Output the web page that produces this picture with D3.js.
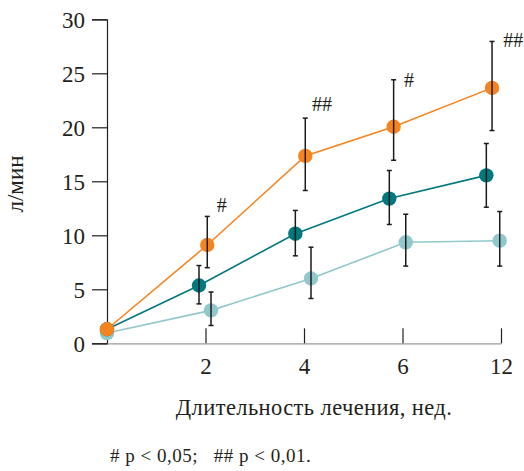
<!DOCTYPE html>
<html><head><meta charset="utf-8">
<script src="https://cdn.jsdelivr.net/npm/d3@7"></script>
<style>body{margin:0;background:#fff}svg{display:block}</style>
</head><body><svg id="c" width="524" height="471"></svg>
<script>
// categories (weeks) and tick labels
const weeks = ["0","2","4","6","12"];
const xTickLabels = ["2","4","6","12"];
const yTicks = [0,5,10,15,20,25,30];
// series values (x as position in category units, y in л/мин)
const orangeX = [0, 1.018, 2.013, 2.91, 3.909];
const orangeY = [1.3, 9.1, 17.35, 20.05, 23.65];
const orangeLo = [null, 7.0, 14.15, 16.95, 19.7];
const orangeHi = [null, 11.75, 20.85, 24.4, 27.95];
const tealX = [0, 0.934, 1.912, 2.866, 3.851];
const tealY = [1.3, 5.35, 10.15, 13.4, 15.55];
const tealLo = [null, 3.65, 8.1, 11.0, 12.6];
const tealHi = [null, 7.2, 12.3, 16.0, 18.5];
const lightX = [0, 1.056, 2.071, 3.033, 3.987];
const lightY = [0.95, 3.05, 6.0, 9.35, 9.5];
const lightLo = [null, 1.65, 4.15, 7.15, 7.15];
const lightHi = [null, 4.75, 8.9, 11.95, 12.2];
// significance annotations (category-unit x, value-unit y of baseline)
const sigText = ["#", "##", "#", "##"];
const sigX = [1.114, 2.081, 3.015, 4.022];
const sigY = [12.15, 21.5, 23.7, 27.45];
const yTitle = "л/мин";
const xTitle = "Длительность лечения, нед.";
const footnote = "# p < 0,05;   ## p < 0,01.";

const FONT = "Liberation Serif";
const INK = "#231f20";
const svg = d3.select("#c");
const x = d3.scaleLinear().domain([0, weeks.length-1]).range([107, 501]);
const xPt = d3.scalePoint().domain(weeks).range([107, 501]);
const y = d3.scaleLinear().domain([0, 30]).range([343.3, 19.3]);

// y axis
const yAx = svg.append("g").attr("transform","translate(107,0)")
  .call(d3.axisLeft(y).tickValues(yTicks).tickSize(15).tickPadding(7));
yAx.attr("font-family", FONT).attr("font-size", 23);
yAx.select(".domain").attr("stroke",INK).attr("stroke-width",1.2);
yAx.selectAll(".tick line").attr("stroke",INK).attr("stroke-width",1.2);
yAx.selectAll(".tick text").attr("fill",INK).attr("dy","0.34em");

// x axis
const xAx = svg.append("g").attr("transform","translate(0,343.3)")
  .call(d3.axisBottom(xPt).tickValues(xTickLabels).tickSize(-15).tickPadding(0).tickSizeOuter(0));
xAx.attr("font-family", FONT).attr("font-size", 23);
xAx.select(".domain").attr("stroke","#9a9a9a").attr("stroke-width",1.2);
xAx.selectAll(".tick line").attr("stroke",INK).attr("stroke-width",1.2);
xAx.selectAll(".tick text").attr("fill",INK).attr("dy",null).attr("y",31);

const series = [
  {xs: orangeX, ys: orangeY, lo: orangeLo, hi: orangeHi, color: "#f5841f"},
  {xs: tealX, ys: tealY, lo: tealLo, hi: tealHi, color: "#00787d"},
  {xs: lightX, ys: lightY, lo: lightLo, hi: lightHi, color: "#92c8cc"}
];
const line = d3.line().x(d => x(d[0])).y(d => y(d[1]));
[2,1,0].forEach(si => {
  const s = series[si];
  const pts = s.xs.map((v,i) => [v, s.ys[i]]);
  svg.append("path").attr("d", line(pts)).attr("fill","none").attr("stroke", s.color).attr("stroke-width",1.6);
});
[2,1,0].forEach(si => {
  const s = series[si];
  const pts = s.xs.map((v,i) => [v, s.ys[i]]);
  svg.append("g").selectAll("circle").data(pts).join("circle")
    .attr("cx", d => x(d[0])).attr("cy", d => y(d[1])).attr("r", 7.2)
    .attr("fill", s.color);
  const eb = svg.append("g").attr("stroke","#1a1a1a").attr("stroke-width",1.5);
  s.xs.forEach((v,i) => {
    if (s.lo[i] == null) return;
    const cx = x(v);
    eb.append("line").attr("x1",cx).attr("x2",cx).attr("y1",y(s.lo[i])).attr("y2",y(s.hi[i]));
    eb.append("line").attr("x1",cx-2.5).attr("x2",cx+2.5).attr("y1",y(s.lo[i])).attr("y2",y(s.lo[i]));
    eb.append("line").attr("x1",cx-2.5).attr("x2",cx+2.5).attr("y1",y(s.hi[i])).attr("y2",y(s.hi[i]));
  });
});
// significance marks
sigText.forEach((m,i) => {
  svg.append("text").attr("x", x(sigX[i])).attr("y", y(sigY[i]))
    .attr("font-family",FONT).attr("font-size",20).attr("fill",INK).text(m);
});

// titles
svg.append("text").attr("transform","translate(23,184) rotate(-90)").attr("text-anchor","middle")
  .attr("font-family",FONT).attr("font-size",23).attr("fill",INK).text(yTitle);
svg.append("text").attr("x", 314).attr("y", 415).attr("text-anchor","middle")
  .attr("font-family",FONT).attr("font-size",22.5).attr("letter-spacing",0.4).attr("fill",INK).text(xTitle);
svg.append("text").attr("x", 110).attr("y", 462)
  .attr("font-family",FONT).attr("font-size",19).attr("letter-spacing",0.5).attr("fill",INK)
  .attr("xml:space","preserve").style("white-space","pre").text(footnote);
</script></body></html>
